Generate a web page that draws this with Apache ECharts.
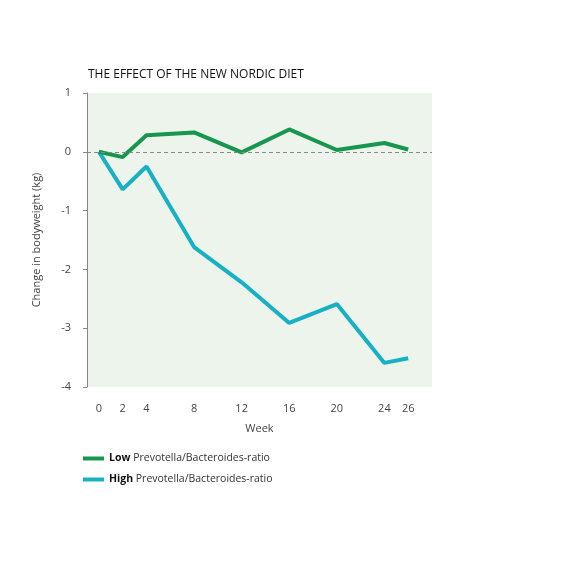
<!DOCTYPE html>
<html>
<head>
<meta charset="utf-8">
<script src="https://cdn.jsdelivr.net/npm/echarts@6/dist/echarts.min.js"></script>
<style>
  html, body { margin: 0; padding: 0; background: #fff; }
  #chart { width: 567px; height: 567px; }
</style>
</head>
<body>
<div id="chart"></div>
<script>
// weeks and weight change (kg)
var weeks = [0, 2, 4, 8, 12, 16, 20, 24, 26];
var lowRatio = [0, -0.09, 0.28, 0.33, -0.01, 0.38, 0.03, 0.15, 0.04];
var highRatio = [0, -0.64, -0.25, -1.62, -2.22, -2.91, -2.59, -3.59, -3.51];
var weekTicks = [0, 2, 4, 8, 12, 16, 20, 24, 26];

var green = '#16964f';
var cyan = '#17b0c4';

function pairs(xs, ys) {
    return xs.map(function (x, i) { return [x, ys[i]]; });
}

var chart = echarts.init(document.getElementById('chart'));
var option = {
    animation: false,
    textStyle: { fontFamily: 'Open Sans' },
    title: {
        text: 'THE EFFECT OF THE NEW NORDIC DIET',
        left: 83,
        top: 64,
        textStyle: {
            color: '#111',
            fontSize: 12,
            fontWeight: 'normal',
            fontFamily: 'Open Sans'
        }
    },
    grid: {
        left: 87,
        right: 135,
        top: 93,
        bottom: 180,
        show: true,
        backgroundColor: '#ecf4ec',
        borderWidth: 0
    },
    xAxis: {
        type: 'value',
        min: -1,
        max: 28,
        name: 'Week',
        nameLocation: 'center',
        nameGap: 36,
        nameTextStyle: { color: '#444', fontSize: 11 },
        axisLine: { show: false, onZero: false },
        axisTick: { show: false },
        splitLine: { show: false },
        axisLabel: {
            customValues: weekTicks,
            color: '#444',
            fontSize: 11,
            margin: 16
        }
    },
    yAxis: {
        type: 'value',
        min: -4,
        max: 1,
        interval: 1,
        name: 'Change in bodyweight (kg)',
        nameLocation: 'center',
        nameRotate: 90,
        nameGap: 45,
        nameTextStyle: { color: '#444', fontSize: 11 },
        axisLine: { show: true, onZero: false, lineStyle: { color: '#888', width: 1 } },
        axisTick: { show: true, length: 4, lineStyle: { color: '#888' } },
        splitLine: { show: false },
        axisLabel: { color: '#444', fontSize: 11, margin: 16 }
    },
    legend: {
        orient: 'vertical',
        left: 83,
        top: 453,
        padding: 0,
        itemWidth: 21,
        itemHeight: 4,
        itemGap: 10,
        icon: 'rect',
        textStyle: {
            color: '#333',
            fontSize: 10.5,
            rich: {
                b: { fontWeight: 'bold', fontSize: 10.5, color: '#111' },
                n: { fontSize: 10.5, color: '#333' }
            }
        },
        formatter: function (name) {
            var parts = name.split(' ');
            return '{b|' + parts[0] + '} {n|' + parts.slice(1).join(' ') + '}';
        },
        data: ['Low Prevotella/Bacteroides-ratio', 'High Prevotella/Bacteroides-ratio']
    },
    series: [
        {
            name: 'Low Prevotella/Bacteroides-ratio',
            type: 'line',
            data: pairs(weeks, lowRatio),
            symbol: 'none',
            lineStyle: { color: green, width: 4 },
            itemStyle: { color: green },
            z: 3,
            markLine: {
                silent: true,
                symbol: 'none',
                label: { show: false },
                lineStyle: { color: '#888', type: [4, 3], width: 1 },
                data: [{ yAxis: 0 }]
            }
        },
        {
            name: 'High Prevotella/Bacteroides-ratio',
            type: 'line',
            data: pairs(weeks, highRatio),
            symbol: 'none',
            lineStyle: { color: cyan, width: 4 },
            itemStyle: { color: cyan },
            z: 2
        }
    ]
};
chart.setOption(option);
</script>
</body>
</html>
